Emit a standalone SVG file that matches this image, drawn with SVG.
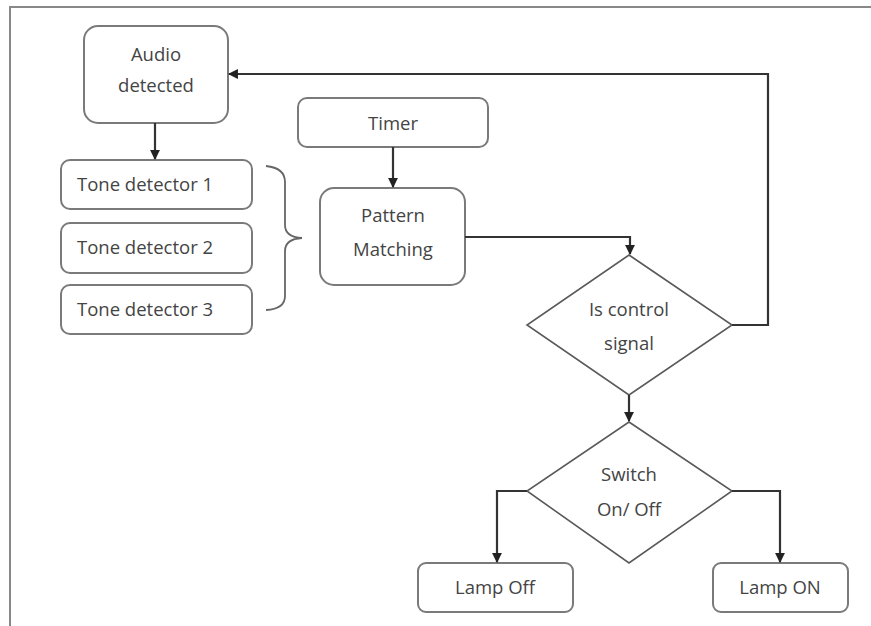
<svg xmlns="http://www.w3.org/2000/svg" width="871" height="626" viewBox="0 0 871 626">
<defs>
<style>
.box{fill:#fff;stroke:#7a7a7a;stroke-width:2}
.dia{fill:#fff;stroke:#5a5a5a;stroke-width:1.6}
.conn{fill:none;stroke:#333;stroke-width:2.2}
.frame{fill:none;stroke:#888;stroke-width:2}
text{font-family:"Open Sans","Liberation Sans",sans-serif;font-size:18.5px;fill:#444}
.c{text-anchor:middle}
</style>
<marker id="arr" viewBox="0 0 10 10" refX="9" refY="5" markerWidth="4.5" markerHeight="4.5" orient="auto">
<path d="M0,0 L10,5 L0,10 z" fill="#222"/>
</marker>
</defs>
<rect width="871" height="626" fill="#fff"/>
<path class="frame" d="M10,626 V7 H871"/>

<g id="audio"><rect class="box" x="84" y="26" width="144" height="97" rx="14"/><text class="c" x="156" y="61">Audio</text><text class="c" x="156" y="92">detected</text></g>
<g id="tone1"><rect class="box" x="61" y="160" width="191" height="49" rx="9"/><text x="77" y="191">Tone detector 1</text></g>
<g id="tone2"><rect class="box" x="61" y="223" width="191" height="50" rx="9"/><text x="77" y="254">Tone detector 2</text></g>
<g id="tone3"><rect class="box" x="61" y="285" width="191" height="49" rx="9"/><text x="77" y="316">Tone detector 3</text></g>
<g id="brace"><path d="M266,166 Q285,168 285,182 V225 Q285,237 302,238 Q285,239 285,251 V296 Q285,309 266,310" fill="none" stroke="#666" stroke-width="1.8"/></g>
<g id="timer"><rect class="box" x="298" y="98" width="190" height="49" rx="9"/><text class="c" x="393" y="130">Timer</text></g>
<g id="pattern"><rect class="box" x="320" y="188" width="145" height="97" rx="14"/><text class="c" x="393" y="222">Pattern</text><text class="c" x="393" y="256">Matching</text></g>
<g id="control"><polygon class="dia" points="629,255 732,325 629,395 527,325"/><text class="c" x="629" y="316">Is control</text><text class="c" x="629" y="350">signal</text></g>
<g id="switch"><polygon class="dia" points="629,422 732,491 629,563 527,491"/><text class="c" x="629" y="481">Switch</text><text class="c" x="629" y="516">On/ Off</text></g>
<g id="lampoff"><rect class="box" x="418" y="563" width="155" height="49" rx="8"/><text class="c" x="495" y="594">Lamp Off</text></g>
<g id="lampon"><rect class="box" x="713" y="563" width="135" height="49" rx="8"/><text class="c" x="780" y="594">Lamp ON</text></g>

<g id="connectors">
<path class="conn" d="M155,123 V159" marker-end="url(#arr)"/>
<path class="conn" d="M393,147 V187" marker-end="url(#arr)"/>
<path class="conn" d="M465,237 H630 V254" marker-end="url(#arr)"/>
<path class="conn" d="M732,325 H768 V74 H229" marker-end="url(#arr)"/>
<path class="conn" d="M629,395 V421" marker-end="url(#arr)"/>
<path class="conn" d="M527,491 H497 V562" marker-end="url(#arr)"/>
<path class="conn" d="M732,491 H780 V562" marker-end="url(#arr)"/>
</g>
</svg>
